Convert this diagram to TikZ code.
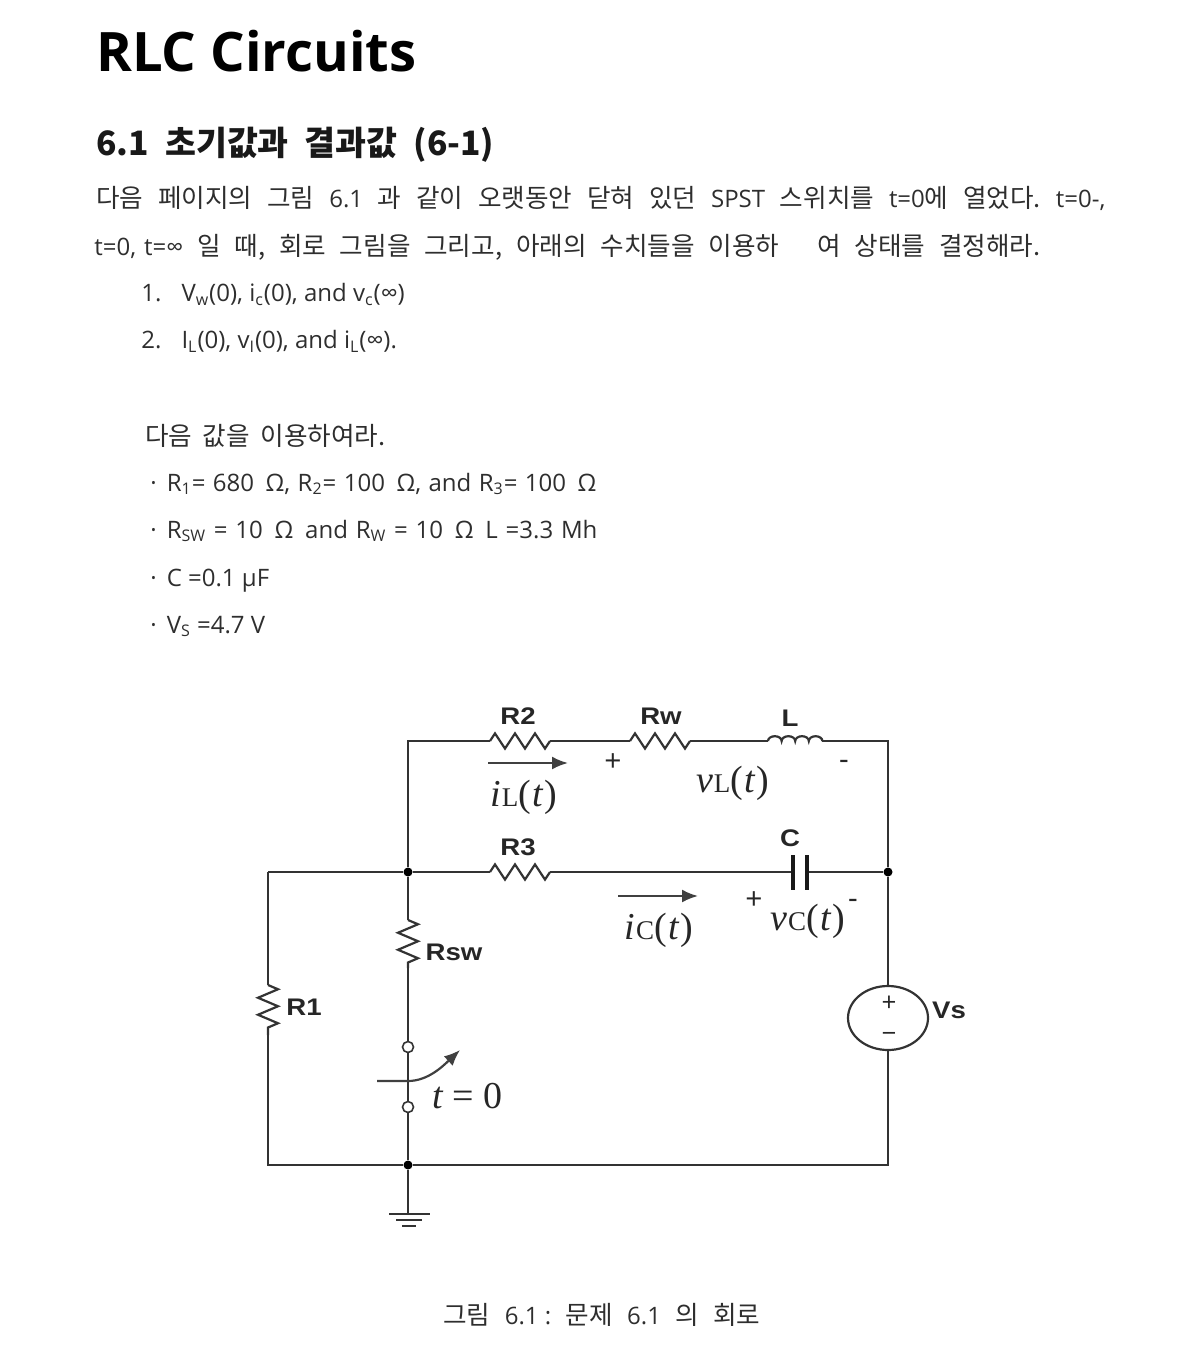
\documentclass[tikz,border=0pt]{standalone}
\usepackage[no-math]{fontspec}
\setmainfont{Noto Sans CJK KR}
\newfontfamily\enfont{Open Sans}
\newfontfamily\labelfont[FakeStretch=1.15]{Liberation Sans}
\newfontfamily\symfont{Liberation Serif}
\usetikzlibrary{arrows.meta,decorations.pathmorphing,shapes.geometric}
\frenchspacing
\newcommand{\en}[1]{{\enfont\fontsize{12}{14}\selectfont #1}}
\newcommand{\fitline}[2]{\makebox[#1][s]{#2}}
\newcommand{\timelabel}[2]{{\itshape #1}\kern.3pt{\fontsize{13.5}{15}\selectfont #2}(\kern.8pt{\itshape t}\kern.8pt)}
\tikzset{
  textline/.style={anchor=base west,inner sep=0pt,font=\fontsize{12.8}{15}\selectfont,text=black!82},
  partlabel/.style={inner sep=0pt,font=\labelfont\bfseries\fontsize{12}{14}\selectfont,text=black!85},
  mathlabel/.style={inner sep=0pt,font=\symfont\fontsize{19}{22}\selectfont,text=black!85},
  signlabel/.style={inner sep=0pt,font=\enfont\fontsize{15}{17}\selectfont,text=black!85},
  sourcesign/.style={inner sep=0pt,font=\enfont\fontsize{13}{15}\selectfont,text=black!85},
  wire/.style={line width=1.1pt,draw=black!80},
  resistorwire/.style={wire,decorate,decoration={zigzag,segment length=10pt,amplitude=3.8pt}},
  tallwire/.style={wire,decorate,decoration={zigzag,segment length=8.5pt,amplitude=5pt}},
  junction/.style={circle,fill=black,inner sep=0pt,minimum size=4.5pt},
  terminal/.style={circle,draw=black!80,line width=.8pt,fill=white,inner sep=0pt,minimum size=5.5pt},
  currentarrow/.style={line width=1.1pt,draw=black!75,-{Latex[length=8pt,width=6.5pt]}}
}
\begin{document}
\begin{tikzpicture}[x=.5pt,y=-.5pt]
  \useasboundingbox (0,0) rectangle (1179,1347);
  % text above the circuit
  \node[anchor=base west,inner sep=0pt,font=\enfont\bfseries\fontsize{27.2}{32}\selectfont] (title) at (96,72) {RLC Circuits};
  \node[anchor=base west,inner sep=0pt,font=\bfseries\fontsize{16.8}{20}\selectfont,text=black!90] (heading) at (96,156) {\fitline{199pt}{6.1 초기값과 결과값 (6-1)}};
  \node[textline] (para1) at (96,208) {\fitline{504.5pt}{다음 페이지의 그림 \en{6.1} 과 같이 오랫동안 닫혀 있던 \en{SPST} 스위치를 \en{t=0}에 열었다. \en{t=0-,}}};
  \node[textline] (para2) at (94,256) {\fitline{473pt}{\mbox{\en{t=0,\hspace{4pt}t=∞}} 일 때, 회로 그림을 그리고, 아래의 수치들을 이용하\hspace{19pt}여 상태를 결정해라.}};
  \node[textline] (item1) at (141,302) {\en{1.\hspace{10pt}V\textsubscript{w}(0), i\textsubscript{c}(0), and v\textsubscript{c}(∞)}};
  \node[textline] (item2) at (141,349) {\en{2.\hspace{10pt}I\textsubscript{L}(0), v\textsubscript{I}(0), and i\textsubscript{L}(∞).}};
  \node[textline] (given) at (145,445) {\fitline{120pt}{다음 값을 이용하여라.}};
  \node[textline] (val1) at (150,491) {\fitline{223pt}{\en{·\hspace{5pt}R\textsubscript{1}= 680\, Ω, R\textsubscript{2}= 100\, Ω, and R\textsubscript{3}= 100\, Ω}}};
  \node[textline] (val2) at (150,538) {\fitline{223.5pt}{\en{·\hspace{5pt}R\textsubscript{SW} = 10\, Ω\, and R\textsubscript{W} = 10\, Ω\, L =3.3 Mh}}};
  \node[textline] (val3) at (150,586) {\en{·\hspace{5pt}C =0.1 μF}};
  \node[textline] (val4) at (150,633) {\en{·\hspace{5pt}V\textsubscript{S} =4.7 V}};
  \node[textline] (caption) at (443,1324) {\fitline{158.5pt}{그림 \mbox{\en{6.1 :}} 문제 \en{6.1} 의 회로}};
  % circuit points
  \coordinate (topleft) at (408,741);
  \coordinate (topright) at (888,741);
  \coordinate (midleft) at (268,872);
  \coordinate (botleft) at (268,1165);
  \coordinate (botright) at (888,1165);
  \coordinate (r2a) at (490,741);
  \coordinate (r2b) at (550,741);
  \coordinate (rwa) at (630,741);
  \coordinate (rwb) at (690,741);
  \coordinate (la) at (768,741);
  \coordinate (lb) at (822,741);
  \coordinate (r3a) at (490,872);
  \coordinate (r3b) at (550,872);
  \coordinate (capa) at (793,872);
  \coordinate (capb) at (807,872);
  \coordinate (rswa) at (408,920);
  \coordinate (rswb) at (408,968);
  \coordinate (r1a) at (268,985);
  \coordinate (r1b) at (268,1035);
  \coordinate (gnd) at (408,1214);
  \node[junction] (jleft) at (408,872) {};
  \node[junction] (jright) at (888,872) {};
  \node[junction] (jbot) at (408,1165) {};
  \node[ellipse,wire,draw,minimum width=40pt,minimum height=32pt,inner sep=0pt] (vs) at (888,1018) {};
  % wires
  \draw[wire] (jleft) -- (topleft) -- (r2a);
  \draw[resistorwire] (r2a) -- (r2b);
  \draw[wire] (r2b) -- (rwa);
  \draw[resistorwire] (rwa) -- (rwb);
  \draw[wire] (rwb) -- (la);
  \draw[wire] (la) \foreach \n in {1,...,4} {arc[start angle=180,end angle=0,x radius=3.4pt,y radius=2.4pt]};
  \draw[wire] (lb) -- (topright) -- (jright);
  \draw[wire] (midleft) -- (jleft) -- (r3a);
  \draw[resistorwire] (r3a) -- (r3b);
  \draw[wire] (r3b) -- (capa);
  \draw[wire] (capb) -- (jright);
  \draw[line width=2pt,draw=black!90] (793,855) -- (793,890);
  \draw[line width=2pt,draw=black!90] (807,855) -- (807,890);
  \draw[wire] (jright) -- (vs.north);
  \draw[wire] (vs.south) -- (botright) -- (jbot) -- (botleft) -- (r1b);
  \draw[tallwire] (r1a) -- (r1b);
  \draw[wire] (r1a) -- (midleft);
  \draw[wire] (jleft) -- (rswa);
  \draw[tallwire] (rswa) -- (rswb);
  \node[terminal] (swa) at (408,1047) {};
  \node[terminal] (swb) at (408,1107) {};
  \draw[wire] (rswb) -- (swa) -- (swb) -- (jbot) -- (gnd);
  % ground
  \coordinate (g1a) at (389,1214);
  \coordinate (g1b) at (430,1214);
  \coordinate (g2a) at (396,1220);
  \coordinate (g2b) at (422,1220);
  \coordinate (g3a) at (402,1226);
  \coordinate (g3b) at (416,1226);
  \draw[line width=.8pt,draw=black!80] (g1a) -- (g1b) (g2a) -- (g2b) (g3a) -- (g3b);
  % switch arrow
  \coordinate (arrowa) at (377,1081);
  \coordinate (arrowb) at (460,1050);
  \draw[currentarrow] (arrowa) -- (408,1081) .. controls (428,1081) and (443,1066) .. (arrowb);
  % current arrows
  \coordinate (ila) at (488,763);
  \coordinate (ilb) at (568,763);
  \coordinate (ica) at (618,896);
  \coordinate (icb) at (698,896);
  \draw[currentarrow] (ila) -- (ilb);
  \draw[currentarrow] (ica) -- (icb);
  % labels
  \node[partlabel] (lr2) at (518,716) {R2};
  \node[partlabel] (lrw) at (661,716) {Rw};
  \node[partlabel] (ll) at (790,718) {L};
  \node[partlabel] (lr3) at (518,847) {R3};
  \node[partlabel] (lc) at (790,838) {C};
  \node[partlabel] (lrsw) at (454,952) {Rsw};
  \node[partlabel] (lr1) at (304,1007) {R1};
  \node[partlabel] (lvs) at (949,1010) {Vs};
  \node[mathlabel] (lil) at (524,797) {\timelabel{i}{L}};
  \node[mathlabel] (lvl) at (733,783) {\timelabel{v}{L}};
  \node[mathlabel] (lic) at (659,930) {\timelabel{i}{C}};
  \node[mathlabel] (lvc) at (808,921) {\timelabel{v}{C}};
  \node[mathlabel] (lt) at (467,1096) {{\itshape t} = 0};
  \node[signlabel] (pl) at (613,763) {+};
  \node[signlabel] (ml) at (844,765) {-};
  \node[signlabel] (pc) at (754,901) {+};
  \node[signlabel] (mc) at (853,904) {-};
  \node[sourcesign] (pv) at (889,1004) {+};
  \node[sourcesign] (mv) at (889,1037) {−};
\end{tikzpicture}
\end{document}
